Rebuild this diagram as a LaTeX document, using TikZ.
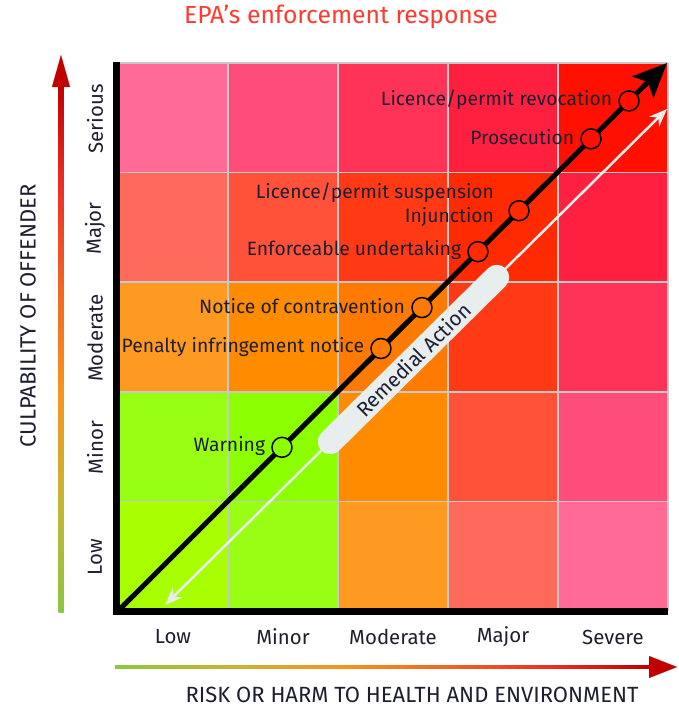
\documentclass[tikz,border=0pt]{standalone}
\usepackage{fontspec}
\setmainfont{Fira Sans}
\usepackage{tikz}
\usetikzlibrary{positioning,arrows.meta,calc}

% cell colours, named by (lower level, higher level)
\definecolor{cell11}{HTML}{A8FF00}
\definecolor{cell12}{HTML}{98FF14}
\definecolor{cell22}{HTML}{8CFF00}
\definecolor{cell13}{HTML}{FF9A20}
\definecolor{cell23}{HTML}{FF8C00}
\definecolor{cell33}{HTML}{FF7A00}
\definecolor{cell14}{HTML}{FF6A5A}
\definecolor{cell24}{HTML}{FF5238}
\definecolor{cell34}{HTML}{FF3A14}
\definecolor{cell44}{HTML}{FF2A00}
\definecolor{cell15}{HTML}{FF6B96}
\definecolor{cell25}{HTML}{FF4D79}
\definecolor{cell35}{HTML}{FF3358}
\definecolor{cell45}{HTML}{FF2040}
\definecolor{cell55}{HTML}{FF1000}
\definecolor{gridgray}{HTML}{C8C8C8}
\definecolor{titlered}{HTML}{FF3B30}
\definecolor{axgreen}{HTML}{8DC63F}
\definecolor{axolive}{HTML}{C8B432}
\definecolor{axorange}{HTML}{F7941D}
\definecolor{axorred}{HTML}{F26522}
\definecolor{axred}{HTML}{EE2A24}
\definecolor{axdark}{HTML}{C00000}
\definecolor{pillgray}{HTML}{E8EEEE}
\definecolor{inktext}{HTML}{1E1E30}

\pgfdeclareverticalshading{culpshade}{100bp}{color(0bp)=(axgreen); color(25bp)=(axgreen);
  color(36bp)=(axolive); color(46bp)=(axorange); color(56bp)=(axorred);
  color(66bp)=(axred); color(75bp)=(axdark); color(100bp)=(axdark)}
\pgfdeclarehorizontalshading{riskshade}{100bp}{color(0bp)=(axgreen); color(25bp)=(axgreen);
  color(36bp)=(axolive); color(46bp)=(axorange); color(56bp)=(axorred);
  color(66bp)=(axred); color(75bp)=(axdark); color(100bp)=(axdark)}

\begin{document}
\begin{tikzpicture}[x=1pt,y=-1pt,
      stage/.style={
         circle,
         draw=black,
         line width=1.5pt,
         inner sep=0pt,
         minimum size=20pt},
      stagelabel/.style={font=\fontsize{19.3}{24}\selectfont, text=inktext, inner sep=0pt, align=right},
      levellabel/.style={font=\fontsize{20.4}{22}\selectfont, text=inktext},
      axlabel/.style={font=\fontsize{22}{24}\selectfont, text=inktext},
      pill/.style={fill=pillgray, rounded corners=12.5pt, minimum width=259pt,
         minimum height=25pt, inner sep=0pt, text=inktext, font=\fontsize{20.5}{22}\selectfont},
      gridline/.style={draw=gridgray, line width=1.5pt},
      response/.style={line width=5pt, -{Stealth[length=34pt,width=30pt,inset=7pt]}},
      remedy/.style={draw=pillgray, line width=2.5pt,
         {Stealth[length=18pt,width=14pt]}-{Stealth[length=18pt,width=14pt]}},
      axhead/.style={axdark, line width=0.1pt}
      ]
    \useasboundingbox (0,0) rectangle (679,707);

    % the 5x5 matrix
    \foreach \c in {1,...,5}
      \foreach \r in {1,...,5}{
        \pgfmathtruncatemacro\lo{min(\c,\r)}
        \pgfmathtruncatemacro\hi{max(\c,\r)}
        \fill[fill=cell\lo\hi] (8+110*\c,611-109.6*\r) rectangle ++(110,109.6);
      }
    \foreach \i in {0,...,5}{
      \draw[gridline] (118+110*\i,63) -- (118+110*\i,611);
      \draw[gridline] (118,611-109.6*\i) -- (668,611-109.6*\i);
    }
    \draw[line width=7pt] (116.5,62) -- (116.5,611.5) -- (668,611.5);

    % title and axes
    \node[font=\fontsize{24.7}{26}\selectfont, text=titlered] (title) at (341,17) {EPA’s enforcement response};
    \node[axlabel, rotate=90] (culp) at (28,316) {CULPABILITY OF OFFENDER};
    \node[axlabel] (risk) at (412,695) {RISK OR HARM TO HEALTH AND ENVIRONMENT};
    \foreach \lvl [count=\k] in {Low,Minor,Moderate,Major,Serious}
      \node[levellabel, rotate=90] (row\k) at (95,667-109.6*\k) {\lvl};
    \foreach \lvl [count=\k] in {Low,Minor,Moderate,Major,Severe}
      \node[levellabel] (col\k) at (63+110*\k,637) {\lvl};

    \coordinate (culpbase) at (61,612);
    \coordinate (culptip) at (61,55);
    \shade[shading=culpshade] ($(culpbase)+(-2.5,0)$) rectangle ($(culptip)+(2.5,31)$);
    \draw[axhead, -{Triangle[length=32pt,width=18pt]}] ($(culptip)+(0,31)$) -- (culptip);

    \coordinate (riskbase) at (115,667);
    \coordinate (risktip) at (677,667);
    \shade[shading=riskshade] ($(riskbase)+(0,-1.8)$) rectangle ($(risktip)+(-27,1.8)$);
    \draw[axhead, -{Triangle[length=28pt,width=22pt]}] ($(risktip)+(-27,0)$) -- (risktip);

    % remedial action band
    \coordinate (remlow) at (165,605);
    \coordinate (remhigh) at (667,109);
    \draw[remedy] (remlow) -- node[pill, sloped, pos=0.495] (remedial) {Remedial Action} (remhigh);

    % enforcement response line
    \coordinate (origin) at (118,611);
    \coordinate (peak) at (667,63);
    \draw[response] (origin) -- (peak);

    \foreach \n/\t/\clr in {% name/position on line/fill
      warn/0.2987/cell22,
      penalty/0.479/cell33,
      notice/0.5537/cell33,
      enforce/0.6557/cell44,
      injunct/0.7304/cell44,
      prosec/0.8616/cell55,
      revoke/0.9308/cell55}
       \node[stage, fill=\clr] (\n) at ($(origin)!\t!(peak)$) {};

    \foreach \n/\txt in {
      warn/Warning,
      penalty/Penalty infringement notice,
      notice/Notice of contravention,
      enforce/Enforceable undertaking,
      prosec/Prosecution,
      revoke/Licence\slash permit revocation}
       \node[stagelabel, left=6pt of \n, yshift=1.5pt] {\txt};
    \node[stagelabel, left=14pt of injunct, yshift=6pt] (suspend) {Licence\slash permit suspension\\Injunction};
\end{tikzpicture}
\end{document}
